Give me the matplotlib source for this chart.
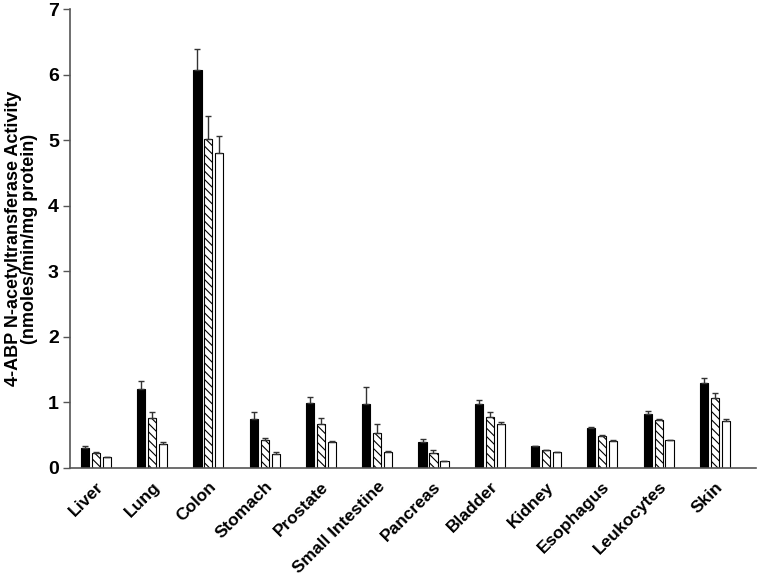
import matplotlib
matplotlib.use('Agg')
import matplotlib.pyplot as plt
import numpy as np

matplotlib.rcParams['font.family'] = ['Liberation Sans', 'DejaVu Sans']
matplotlib.rcParams['font.weight'] = 'bold'
matplotlib.rcParams['hatch.linewidth'] = 0.8

tissues = ['Liver', 'Lung', 'Colon', 'Stomach', 'Prostate', 'Small Intestine',
           'Pancreas', 'Bladder', 'Kidney', 'Esophagus', 'Leukocytes', 'Skin']

black_vals = [0.31, 1.20, 6.07, 0.75, 0.99, 0.98, 0.40, 0.98, 0.33, 0.61, 0.83, 1.29]
black_err = [0.03, 0.13, 0.32, 0.11, 0.09, 0.26, 0.04, 0.06, 0.01, 0.01, 0.04, 0.08]
hatch_vals = [0.23, 0.76, 5.02, 0.43, 0.67, 0.53, 0.23, 0.78, 0.27, 0.49, 0.73, 1.07]
hatch_err = [0.01, 0.10, 0.35, 0.02, 0.09, 0.14, 0.04, 0.07, 0.01, 0.01, 0.01, 0.07]
white_vals = [0.16, 0.37, 4.80, 0.21, 0.39, 0.24, 0.10, 0.67, 0.25, 0.41, 0.42, 0.72]
white_err = [0.01, 0.02, 0.26, 0.03, 0.02, 0.02, 0.00, 0.03, 0.00, 0.01, 0.01, 0.03]

fig = plt.figure(figsize=(7.58, 5.77), dpi=100)
ax = fig.add_axes([0.0923, 0.189, 0.905, 0.795])

x = np.arange(len(tissues))
w = 0.145
off = 0.195
ekw = dict(ecolor='#333333', elinewidth=1.0, capsize=2.5, capthick=1.0)

def one_sided(err):
    return [np.zeros(len(err)), err]

ax.bar(x - off, black_vals, w, color='black', edgecolor='black', linewidth=0.8,
       yerr=one_sided(black_err), error_kw=ekw)
ax.bar(x, hatch_vals, w, color='white', edgecolor='black', linewidth=0.8,
       hatch='\\\\\\\\', yerr=one_sided(hatch_err), error_kw=ekw)
ax.bar(x + off, white_vals, w, color='white', edgecolor='black', linewidth=0.8,
       yerr=one_sided(white_err), error_kw=ekw)

ax.set_xlim(-0.46, 11.73)
ax.set_ylim(0, 7)
ax.set_yticks(range(0, 8))
ax.set_xticks(x)
ax.set_xticklabels(tissues, rotation=45, ha='right', rotation_mode='anchor',
                   fontsize=12.5, fontweight='bold')
ax.tick_params(axis='x', length=0, pad=8)
ax.tick_params(axis='y', length=5, width=1, labelsize=14, color='#555555', pad=3)
for lab in ax.get_yticklabels():
    lab.set_fontweight('bold')

for s in ['top', 'right']:
    ax.spines[s].set_visible(False)
for s in ['left', 'bottom']:
    ax.spines[s].set_color('#555555')
    ax.spines[s].set_linewidth(1.2)

ax.set_ylabel('4-ABP N-acetyltransferase Activity\n(nmoles/min/mg protein)',
              fontsize=13, fontweight='bold', linespacing=0.95)
ax.yaxis.set_label_coords(-0.046, 0.5)

plt.savefig('out.png', dpi=100, facecolor='white')
plt.close()
